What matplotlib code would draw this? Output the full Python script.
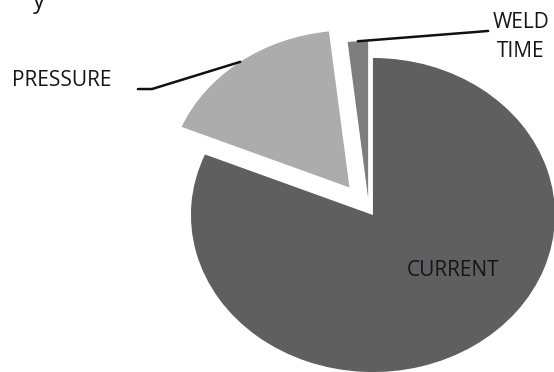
import numpy as np
import matplotlib
matplotlib.use("Agg")
import matplotlib.pyplot as plt

# Data
categories = ["CURRENT", "PRESSURE", "WELD\nTIME"]
values = [81.3, 16.9, 1.8]
explode = [0.04, 0.178, 0.075]
colors = ["#5f5f5f", "#acacac", "#7e7e7e"]

plt.rcParams['font.family'] = ['Open Sans', 'DejaVu Sans']

fig = plt.figure(figsize=(5.54, 3.72), dpi=100)
ax = fig.add_axes([0, 0, 1, 1])
wedges, _ = ax.pie(values, explode=explode, colors=colors, startangle=90,
                   counterclock=False, radius=1.0,
                   wedgeprops=dict(linewidth=0))
ax.set_aspect('auto')
ax.set_xlim(-2.027, 1.017)
ax.set_ylim(-1.033, 1.336)
ax.axis('off')

def anchor(i, frac_r=1.0):
    w = wedges[i]
    mid = np.deg2rad((w.theta1 + w.theta2) / 2)
    cx, cy = w.center
    return cx + frac_r * np.cos(mid), cy + frac_r * np.sin(mid)

txtc = "#15151c"
fs = 15
fw = 'medium'

# CURRENT label inside
ax.text(0.462, -0.384, categories[0], ha='center', va='center',
        fontsize=fs, color=txtc, fontweight=fw)

# PRESSURE label with leader
px, py = anchor(1)
ax.plot([px, -1.192, -1.269], [py, 0.769, 0.769], color='#111111', lw=1.8,
        solid_capstyle='round')
ax.text(-1.412, 0.826, categories[1], ha='right', va='center',
        fontsize=fs, color=txtc, fontweight=fw)

# WELD TIME label with leader
wx, wy = anchor(2)
ax.plot([wx, 0.583, 0.655], [wy, 1.132, 1.139], color='#111111', lw=1.8,
        solid_capstyle='round')
ax.text(0.680, 1.10, categories[2], ha='left', va='center',
        multialignment='center', linespacing=1.5,
        fontsize=fs, color=txtc, fontweight=fw)

# cut-off title fragment at top
fig.text(33 / 554, 1 - 8 / 372, "y", ha='left', va='baseline',
         fontsize=fs + 2, color=txtc, fontweight=fw)

fig.savefig("out.png", dpi=100)
